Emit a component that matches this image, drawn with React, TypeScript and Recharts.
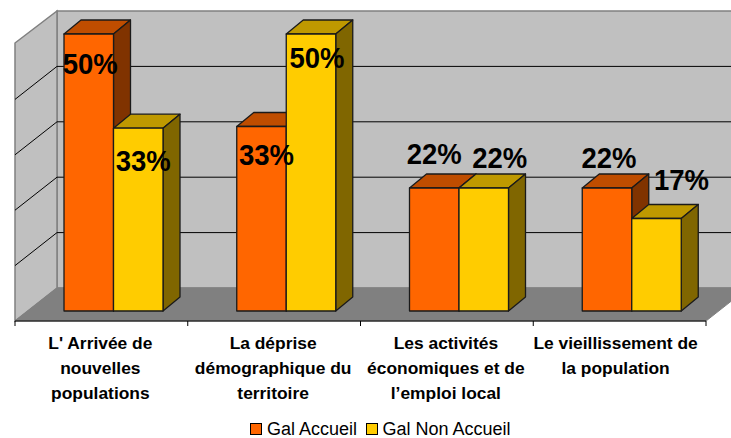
import React from "react";
import { BarChart, Bar, XAxis, YAxis, CartesianGrid, Legend, LabelList, Customized } from "recharts";

const categoryLines = [
  ["L' Arrivée de", "nouvelles", "populations"],
  ["La déprise", "démographique du", "territoire"],
  ["Les activités", "économiques et de", "l’emploi local"],
  ["Le vieillissement de", "la population"],
];
const categories = categoryLines.map((l) => l.join(" "));
const galAccueil = [50, 33.3, 22.2, 22.2];
const galNonAccueil = [33, 50, 22.2, 16.7];
const seriesNames = ["Gal Accueil", "Gal Non Accueil"];
const yTicks = [0, 10, 20, 30, 40, 50];

const rows = categories.map((c, i) => ({ c, a: galAccueil[i], b: galNonAccueil[i] }));

// layout constants
const W = 731, H = 438;
const LEFT = 15, RIGHT = 706, TOP = 44, FLOOR = 321;
const WDX = 42, WDY = 33; // wall depth
const BSX = 12, BSY = 10; // bar offset inside the floor
const BDX = 17, BDY = 14; // bar depth
const LEGEND_H = 18;
const FONT = "'Liberation Sans', Arial, sans-serif";

const labelShiftA = [[1.5, 40], [5, 38], [0, -24], [2, -20]];
const labelShiftB = [[5, 43], [6, 34], [16, -20], [25, -28]];
const orange = { front: "#FF6600", top: "#BF4D00", side: "#803300" };
const yellow = { front: "#FFCC00", top: "#BF9900", side: "#806600" };

function Walls() {
  return (
    <g>
      <rect x={LEFT + WDX} y={TOP - WDY} width={W} height={FLOOR - TOP} fill="#C0C0C0" stroke="#808080" strokeWidth={1.5} />
      <polygon
        points={`${LEFT},${TOP - 1} ${LEFT + WDX},${TOP - WDY} ${LEFT + WDX},${FLOOR - WDY} ${LEFT},${FLOOR}`}
        fill="#C0C0C0" stroke="#808080" strokeWidth={1.5}
      />
    </g>
  );
}

function Floor() {
  return (
    <polygon
      points={`${LEFT},${FLOOR} ${LEFT + WDX},${FLOOR - WDY} ${RIGHT + WDX},${FLOOR - WDY} ${RIGHT},${FLOOR}`}
      fill="#808080" stroke="#808080"
    />
  );
}

function gridLine(props: any) {
  const { x1, x2, y1 } = props;
  if (y1 <= TOP + 1 || y1 >= FLOOR - 1) return <g key={y1} />;
  return (
    <path key={y1} d={`M${x1},${y1} L${x1 + WDX},${y1 - WDY} L${x2 + WDX},${y1 - WDY}`} fill="none" stroke="#000" strokeWidth={1} />
  );
}

function box(colors: any) {
  return (props: any) => {
    const { x, y, width, height } = props;
    const fx = x + BSX, fy = y - BSY, r = fx + width, b = fy + height;
    const s = { stroke: "#1a1a1a", strokeWidth: 1.3, strokeLinejoin: "round" as const };
    return (
      <g>
        <polygon points={`${fx},${fy} ${fx + BDX},${fy - BDY} ${r + BDX},${fy - BDY} ${r},${fy}`} fill={colors.top} {...s} />
        <polygon points={`${r},${fy} ${r + BDX},${fy - BDY} ${r + BDX},${b - BDY} ${r},${b}`} fill={colors.side} {...s} />
        <rect x={fx} y={fy} width={width} height={height} fill={colors.front} {...s} />
      </g>
    );
  };
}

function valueLabel(shift: number[][]) {
  return (props: any) => {
    const { x, y, width, value, index } = props;
    const cx = x + BSX + width / 2 + shift[index][0];
    const by = y - BSY + shift[index][1];
    return (
      <text x={cx} y={by} textAnchor="middle" fontFamily={FONT} fontWeight="bold" fontSize={29.5} fill="#000" textLength={55} lengthAdjust="spacingAndGlyphs">
        {`${Math.round(value)}%`}
      </text>
    );
  };
}

function CategoryTick(props: any) {
  const { x, payload, index } = props;
  const half = (RIGHT - LEFT) / categories.length / 2;
  const lines = categoryLines[index] ?? [];
  const cx = index === 3 ? x - 4 : x - 1;
  return (
    <g>
      <line x1={x - half} x2={x - half} y1={FLOOR} y2={FLOOR + 5} stroke="#000" />
      {index === categories.length - 1 && <line x1={x + half} x2={x + half} y1={FLOOR} y2={FLOOR + 5} stroke="#000" />}
      <text textAnchor="middle" fontFamily={FONT} fontWeight="bold" fontSize={17.4} fill="#000">
        {lines.map((l, i) => (
          <tspan key={i} x={cx} y={348.5 + i * 25.3}>{l}</tspan>
        ))}
      </text>
      <title>{payload?.value}</title>
    </g>
  );
}

function LegendBox() {
  const item = (name: string, color: string, ml: number) => (
    <span key={name} style={{ display: "inline-flex", alignItems: "center", marginLeft: ml }}>
      <span style={{ width: 10, height: 10, background: color, border: "1px solid #000", display: "inline-block", marginRight: 5 }} />
      {name}
    </span>
  );
  return (
    <div style={{ fontFamily: FONT, fontSize: 18, color: "#000", whiteSpace: "nowrap", lineHeight: `${LEGEND_H}px`, height: LEGEND_H, overflow: "visible" }}>
      {item(seriesNames[0], orange.front, 0)}
      {item(seriesNames[1], yellow.front, 8.5)}
    </div>
  );
}

export default function App() {
  return (
    <div style={{ position: "absolute", left: 0, top: 0 }}>
      <BarChart
        width={W}
        height={H}
        data={rows}
        barSize={49.5}
        barGap={0}
        margin={{ top: TOP, right: W - RIGHT, bottom: 0, left: LEFT }}
      >
        <Customized component={Walls} />
        <Customized component={Floor} />
        <CartesianGrid horizontal={gridLine} vertical={false} zIndex={50} />
        <XAxis dataKey="c" height={H - FLOOR - LEGEND_H} interval={0} tick={CategoryTick} tickLine={false} axisLine={{ stroke: "#000", strokeWidth: 1 }} />
        <YAxis hide domain={[0, 50]} ticks={yTicks} />
        <Legend
          content={LegendBox}
          height={LEGEND_H}
          wrapperStyle={{ left: 250, top: 420, width: 300, bottom: "auto" }}
        />
        <Bar dataKey="a" name={seriesNames[0]} isAnimationActive={false} shape={box(orange)}>
          <LabelList dataKey="a" content={valueLabel(labelShiftA)} />
        </Bar>
        <Bar dataKey="b" name={seriesNames[1]} isAnimationActive={false} shape={box(yellow)}>
          <LabelList dataKey="b" content={valueLabel(labelShiftB)} />
        </Bar>
      </BarChart>
    </div>
  );
}
